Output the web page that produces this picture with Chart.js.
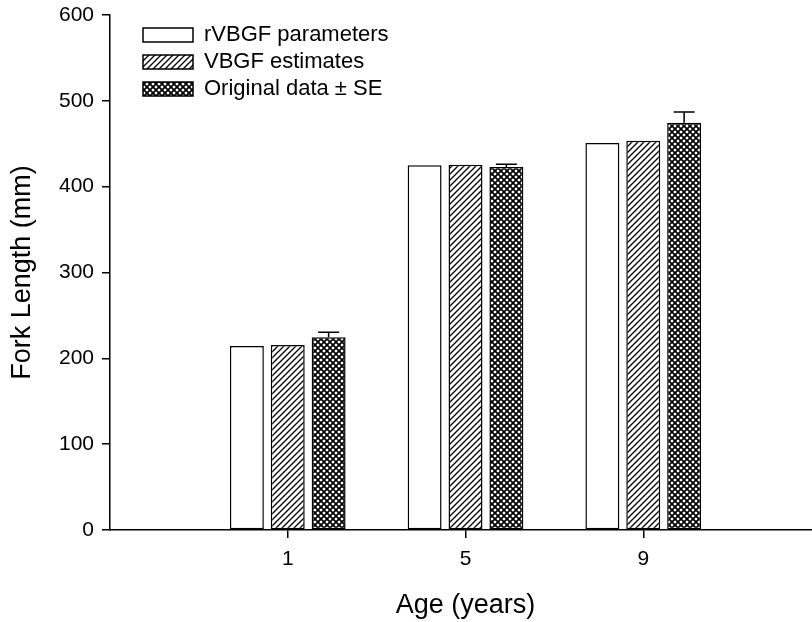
<!DOCTYPE html>
<html>
<head>
<meta charset="utf-8">
<script src="https://cdn.jsdelivr.net/npm/chart.js@4/dist/chart.umd.min.js"></script>
<style>
  html, body { margin: 0; padding: 0; background: #fff; overflow: hidden; width: 812px; height: 622px; }
  canvas { display: block; }
</style>
</head>
<body>
<canvas id="c" width="822" height="622"></canvas>
<script>
// Fork length at age: three estimates per age class
const ages = [1, 5, 9];
const seriesNames = ['rVBGF parameters', 'VBGF estimates', 'Original data \u00b1 SE'];
const rvbgfParams = [214.5, 425, 451];
const vbgfEstimates = [215.5, 425.5, 453.5];
const originalMean = [224.5, 423, 474.5];
const originalSE = [6, 3, 12.5];
const yTicks = [0, 100, 200, 300, 400, 500, 600];

const FONT = '"Liberation Sans", Arial, sans-serif';
const canvas = document.getElementById('c');
const ctx = canvas.getContext('2d');

function makeTile(size, draw) {
  const t = document.createElement('canvas');
  t.width = t.height = size;
  const g = t.getContext('2d');
  g.fillStyle = '#fff';
  g.fillRect(0, 0, size, size);
  g.strokeStyle = '#000';
  draw(g, size);
  return ctx.createPattern(t, 'repeat');
}

// forward diagonal hatch
const hatch = makeTile(6, (g, s) => {
  g.lineWidth = 1.3;
  g.beginPath();
  g.moveTo(0, s); g.lineTo(s, 0);
  g.moveTo(-1, 1); g.lineTo(1, -1);
  g.moveTo(s - 1, s + 1); g.lineTo(s + 1, s - 1);
  g.stroke();
});

// dense cross hatch
const crossHatch = makeTile(6, (g, s) => {
  g.lineWidth = 1.7;
  g.beginPath();
  g.moveTo(0, s); g.lineTo(s, 0);
  g.moveTo(-1, 1); g.lineTo(1, -1);
  g.moveTo(s - 1, s + 1); g.lineTo(s + 1, s - 1);
  g.moveTo(0, 0); g.lineTo(s, s);
  g.moveTo(-1, s - 1); g.lineTo(1, s + 1);
  g.moveTo(s - 1, -1); g.lineTo(s + 1, 1);
  g.stroke();
});

const barStyle = {
  borderColor: '#000',
  borderWidth: 1.5,
  borderSkipped: false,
  categoryPercentage: 0.69,
  barPercentage: 0.83
};

// upper standard-error whiskers on the original data bars
const errorBars = {
  id: 'errorBars',
  afterDatasetsDraw(chart) {
    const meta = chart.getDatasetMeta(2);
    const y = chart.scales.y;
    const c = chart.ctx;
    c.save();
    c.strokeStyle = '#000';
    c.lineWidth = 1.5;
    meta.data.forEach((bar, i) => {
      const top = y.getPixelForValue(originalMean[i] + originalSE[i]);
      const base = y.getPixelForValue(originalMean[i]);
      const half = bar.width * 0.31;
      c.beginPath();
      c.moveTo(bar.x, base);
      c.lineTo(bar.x, top);
      c.moveTo(bar.x - half, top);
      c.lineTo(bar.x + half, top);
      c.stroke();
    });
    c.restore();
  }
};

// place the legend block inside the upper-left of the plot
const legendPlacement = {
  id: 'legendPlacement',
  beforeDraw(chart) {
    const lg = chart.legend;
    if (!lg) return;
    lg.left = chart.chartArea.left + 28;
    lg.top = chart.chartArea.top + 4;
  }
};

new Chart(ctx, {
  type: 'bar',
  data: {
    labels: ages,
    datasets: [
      Object.assign({ label: seriesNames[0], data: rvbgfParams, backgroundColor: '#fff' }, barStyle),
      Object.assign({ label: seriesNames[1], data: vbgfEstimates, backgroundColor: hatch }, barStyle),
      Object.assign({ label: seriesNames[2], data: originalMean, backgroundColor: crossHatch }, barStyle)
    ]
  },
  options: {
    responsive: false,
    animation: false,
    layout: { padding: { top: 15, right: 1, left: 0, bottom: 0 } },
    plugins: {
      tooltip: { enabled: false },
      legend: {
        position: 'chartArea',
        align: 'start',
        labels: {
          color: '#000',
          font: { family: FONT, size: 22 },
          boxWidth: 50,
          boxHeight: 14,
          padding: 5
        }
      }
    },
    scales: {
      x: {
        type: 'linear',
        min: -3,
        max: 13,
        offset: false,
        afterBuildTicks: s => { s.ticks = ages.map(v => ({ value: v })); },
        afterFit: s => { s.height = 92; },
        grid: { drawOnChartArea: false, drawTicks: true, tickLength: 8, color: '#000', lineWidth: 1.5, offset: false },
        border: { color: '#000', width: 1.5 },
        ticks: { color: '#000', font: { family: FONT, size: 21 }, padding: 9, maxRotation: 0, autoSkip: false },
        title: { display: true, text: 'Age (years)', color: '#000', font: { family: FONT, size: 27 }, padding: { top: 8, bottom: 0 } }
      },
      y: {
        min: 0,
        max: 600,
        afterBuildTicks: s => { s.ticks = yTicks.map(v => ({ value: v })); },
        afterFit: s => { s.width = 110; s.paddingTop = 0; s.paddingBottom = 0; },
        grid: { drawOnChartArea: false, drawTicks: true, tickLength: 8, color: '#000', lineWidth: 1.5 },
        border: { color: '#000', width: 1.5 },
        ticks: { color: '#000', font: { family: FONT, size: 21 }, padding: 8 },
        title: { display: true, text: 'Fork Length (mm)', color: '#000', font: { family: FONT, size: 27 }, padding: { top: 6, bottom: 6 } }
      }
    }
  },
  plugins: [errorBars, legendPlacement]
});
</script>
</body>
</html>
